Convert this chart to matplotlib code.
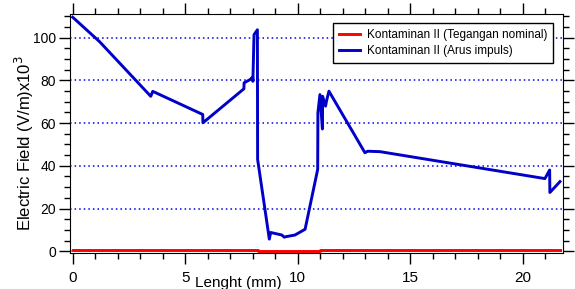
import matplotlib.pyplot as plt
from matplotlib.ticker import MultipleLocator

# Kontaminan II (Arus impuls)
arus_x = [0, 1.2, 3.47, 3.56, 5.78, 5.79, 7.61, 7.62, 7.88, 8.0, 8.01, 8.06, 8.21, 8.22,
          8.74, 8.8, 9.3, 9.4, 9.51, 9.88, 10.33, 10.89, 10.9, 10.99, 11.1, 11.11,
          11.24, 11.28, 11.39, 12.99, 13.11, 13.66, 20.99, 21.2, 21.21, 21.66]
arus_y = [109.5, 98, 72.5, 74.8, 64, 60.1, 76, 78.8, 80.3, 81.5, 79.5, 101.3, 103.6, 43,
          5.7, 8.8, 7.6, 6.6, 6.9, 7.6, 10.3, 38.3, 64.8, 73.3, 57.2, 72.5,
          67.9, 70.2, 74.9, 46.1, 46.8, 46.6, 34, 38.0, 27.5, 32.6]

# Kontaminan II (Tegangan nominal)
nominal_x = [0, 8.22, 8.22, 10.99, 10.99, 21.66]
nominal_y = [0.8, 0.8, 0.3, 0.3, 0.8, 0.8]

plt.rcParams['font.family'] = ['Liberation Sans', 'DejaVu Sans']

fig = plt.figure(figsize=(5.75, 2.89), dpi=100)
ax = fig.add_axes([0.1217, 0.1246, 0.8569, 0.827])

ax.plot(nominal_x, nominal_y, color='#ff0000', lw=2.1, label='Kontaminan II (Tegangan nominal)')
ax.plot(arus_x, arus_y, color='#0000c8', lw=2.1, label='Kontaminan II (Arus impuls)')

ax.set_xlim(-0.12, 21.78)
ax.set_ylim(-0.8, 111)
ax.xaxis.set_major_locator(MultipleLocator(5))
ax.xaxis.set_minor_locator(MultipleLocator(1))
ax.yaxis.set_major_locator(MultipleLocator(20))
ax.yaxis.set_minor_locator(MultipleLocator(5))
ax.yaxis.grid(True, which='major', color='#0000ee', linestyle=(0, (1, 2)), lw=1.1)

ax.tick_params(which='both', direction='out', top=True, right=True, width=1)
ax.tick_params(which='major', length=8)
ax.tick_params(which='minor', length=4.5)
ax.tick_params(axis='y', labelsize=10, pad=2)
ax.tick_params(axis='x', labelsize=11, pad=5)
for lab in ax.get_xticklabels():
    lab.set_family(['Liberation Sans Narrow', 'Liberation Sans'])

ax.set_xlabel('Lenght (mm)', fontsize=11)
ax.xaxis.set_label_coords(0.342, -0.095)
ax.set_ylabel(r'Electric Field (V/m)x10$^3$', fontsize=12)
ax.yaxis.set_label_coords(-0.068, 0.46)

ax.legend(loc='upper right', bbox_to_anchor=(0.981, 0.963), borderaxespad=0,
          fancybox=False, edgecolor='black', framealpha=1, fontsize=8.5,
          handlelength=1.8, handletextpad=0.6, labelspacing=0.4, borderpad=0.5)
ax.get_legend().get_frame().set_linewidth(1)

plt.savefig('out.png', dpi=100)
